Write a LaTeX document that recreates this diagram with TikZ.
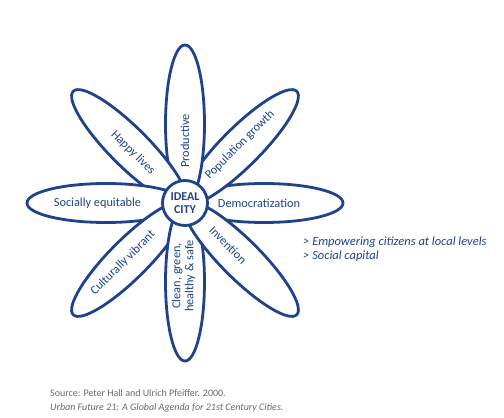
\documentclass[tikz,border=0pt]{standalone}
\usepackage{fontspec}
\setmainfont{Carlito}
\usetikzlibrary{shapes.geometric}
\definecolor{flowerblue}{RGB}{31,66,140}
\definecolor{srcgray}{RGB}{105,105,105}
\tikzset{
  petal/.style={ellipse, draw=flowerblue, fill=white, line width=2.8pt, inner sep=0pt, minimum width=158pt, minimum height=39pt},
  petaltext/.style={text=flowerblue, font=\fontsize{12.3}{13}\selectfont, inner sep=0pt, align=center},
  hub/.style={circle, draw=flowerblue, fill=white, line width=2.8pt, minimum size=45pt, inner sep=0pt, text=flowerblue, font=\bfseries\fontsize{12}{13.5}\selectfont, align=center},
  sidetext/.style={text=flowerblue, font=\itshape\fontsize{12.5}{13}\selectfont, inner sep=0pt, anchor=west},
  srctext/.style={text=srcgray, font=\fontsize{10}{11}\selectfont, inner sep=0pt, anchor=west}
}
\begin{document}
\begin{tikzpicture}[x=1pt,y=-1pt]
\useasboundingbox (0,0) rectangle (504,418);
% petals: centre (185,203), petal centres at 79 from it
\node[petal, rotate=0]   (pE)  at (264,203) {};
\node[petal, rotate=45]  (pNE) at (240.86,147.14) {};
\node[petal, rotate=90]  (pN)  at (185,124) {};
\node[petal, rotate=135] (pNW) at (129.14,147.14) {};
\node[petal, rotate=180] (pW)  at (106,203) {};
\node[petal, rotate=225] (pSW) at (129.14,258.86) {};
\node[petal, rotate=270] (pS)  at (185,282) {};
\node[petal, rotate=315] (pSE) at (240.86,258.86) {};
\node[hub] (hub) at (185,203) {IDEAL\\CITY};
% petal labels
\node[petaltext, rotate=90]  (tN)  at (185,141) {Productive};
\node[petaltext, rotate=-45] (tNW) at (133,153) {Happy lives};
\node[petaltext, rotate=45]  (tNE) at (240,145) {Population growth};
\node[petaltext]             (tW)  at (97.5,203) {Socially equitable};
\node[petaltext]             (tE)  at (259,203) {Democratization};
\node[petaltext, rotate=45]  (tSW) at (123,263) {Culturally vibrant};
\node[petaltext, rotate=90]  (tS)  at (183.5,276) {Clean, green,\\healthy \& safe};
\node[petaltext, rotate=-45] (tSE) at (228,245) {Invention};
% side notes
\node[sidetext] (e1) at (303,242) {> Empowering citizens at local levels};
\node[sidetext] (e2) at (303,256) {> Social capital};
% source
\node[srctext] (s1) at (50,393) {Source: Peter Hall and Ulrich Pfeiffer. 2000.};
\node[srctext, font=\itshape\fontsize{10}{11}\selectfont] (s2) at (50,408) {Urban Future 21: A Global Agenda for 21st Century Cities.};
\end{tikzpicture}
\end{document}
